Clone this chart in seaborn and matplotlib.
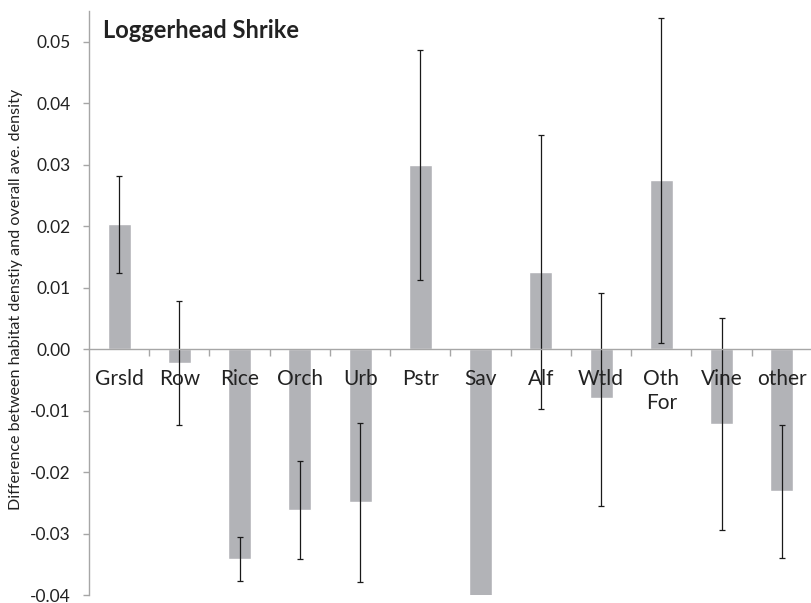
import matplotlib

matplotlib.use("Agg")

import matplotlib.pyplot as plt
import numpy as np
import pandas as pd
import seaborn as sns
from matplotlib.ticker import FixedLocator, FormatStrFormatter

habitats = ["Grsld", "Row", "Rice", "Orch", "Urb", "Pstr", "Sav", "Alf", "Wtld", "Oth\nFor", "Vine", "other"]
diff = [0.0204, -0.0022, -0.0341, -0.0261, -0.0248, 0.0300, -0.0403, 0.0126, -0.0080, 0.0275, -0.0122, -0.0231]
err_low = [0.0124, -0.0124, -0.0377, -0.0341, -0.0379, 0.0113, np.nan, -0.0097, -0.0255, 0.0010, -0.0295, -0.0339]
err_high = [0.0282, 0.0078, -0.0306, -0.0182, -0.0120, 0.0487, np.nan, 0.0349, 0.0092, 0.0539, 0.0050, -0.0123]
yticks = [-0.04, -0.03, -0.02, -0.01, 0.00, 0.01, 0.02, 0.03, 0.04, 0.05]

sns.set_style("white")
plt.rcParams["font.family"] = ["Lato", "DejaVu Sans"]
plt.rcParams["axes.unicode_minus"] = False

df = pd.DataFrame({"habitat": habitats, "diff": diff, "low": err_low, "high": err_high})

fig = plt.figure(figsize=(8.12, 6.03), dpi=100)
ax = fig.add_axes([89 / 812, 8 / 603, 723 / 812, 584 / 603])

sns.barplot(data=df, x="habitat", y="diff", color="#b2b3b7", saturation=1, width=0.38, ax=ax)

# error bars only where the source has them (none on Sav)
has_err = df["low"].notna()
xs = np.arange(len(df))[has_err]
d = df.loc[has_err, "diff"].to_numpy()
yerr = [d - df.loc[has_err, "low"].to_numpy(), df.loc[has_err, "high"].to_numpy() - d]
ax.errorbar(xs, d, yerr=yerr, fmt="none", ecolor="#1a1a1a", elinewidth=0.9, capsize=2.5, capthick=0.9)

ax.set_xlim(-0.5, len(df) - 0.5)
ax.set_ylim(-0.04, 0.055)
ax.set_yticks(yticks)
ax.yaxis.set_major_formatter(FormatStrFormatter("%.2f"))
ax.set_axisbelow(False)

for side in ["top", "right"]:
    ax.spines[side].set_visible(False)
ax.spines["bottom"].set_position(("data", 0))
for side in ["left", "bottom"]:
    ax.spines[side].set_color("#a6a6a6")
    ax.spines[side].set_linewidth(1)

ax.set_xticks(range(len(df)))
ax.set_xticklabels(habitats)
ax.xaxis.set_minor_locator(FixedLocator(np.arange(0.5, len(df) - 1, 1)))
ax.tick_params(axis="x", which="major", length=0, pad=14, labelsize=15, labelcolor="#222222")
ax.tick_params(axis="x", which="minor", bottom=True, length=5, width=1, color="#a6a6a6", direction="out")
ax.tick_params(axis="y", which="major", left=True, length=4, width=1, color="#a6a6a6", pad=9, labelsize=12.5, labelcolor="#222222")
for lab in ax.get_xticklabels():
    lab.set_linespacing(1.3)

ax.set_xlabel("")
ax.set_ylabel("Difference between habitat denstiy and overall ave. density", fontsize=11.6, color="#222222")
ax.yaxis.set_label_coords(-0.091, 0.507)

fig.text(103 / 812, 1 - 31 / 603, "Loggerhead Shrike", fontsize=17, fontweight="bold", color="#222222", va="center", ha="left")

fig.savefig("out.png", dpi=100)
plt.close(fig)
